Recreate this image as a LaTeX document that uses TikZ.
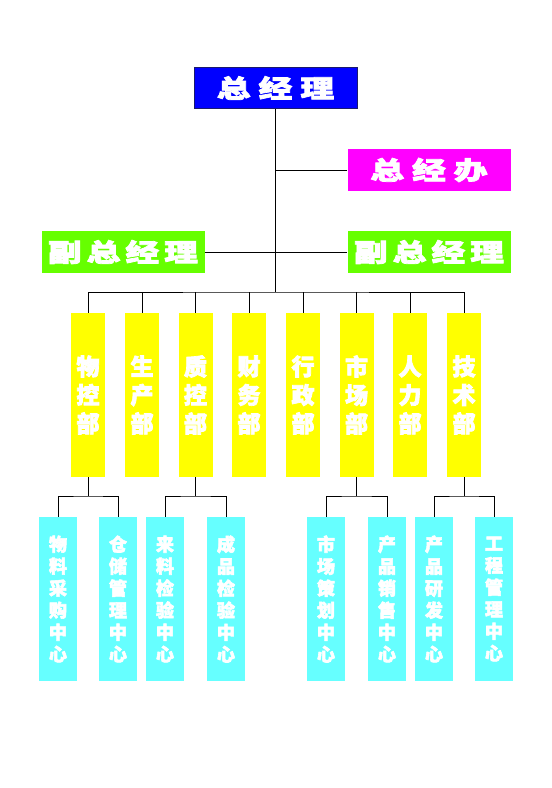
\documentclass[tikz,border=0pt]{standalone}
\usepackage{fontspec}
\newfontfamily\cjk[FakeBold=3]{Noto Sans CJK SC}
\newfontfamily\cjkwide[FakeBold=3,FakeStretch=1.35]{Noto Sans CJK SC}
\usetikzlibrary{positioning, calc}
\definecolor{gmblue}{HTML}{0000FF}
\definecolor{gmnavy}{HTML}{1A1A6E}
\definecolor{officepink}{HTML}{FF00FF}
\definecolor{vicegreen}{HTML}{66FF00}
\definecolor{deptyellow}{HTML}{FFFF00}
\definecolor{centercyan}{HTML}{66FFFF}
\tikzset{
  topbox/.style={inner sep=0pt, minimum width=163, minimum height=41, text=white,
    font=\cjkwide\bfseries\fontsize{25}{25}\selectfont},
  deptbox/.style={fill=deptyellow, inner sep=0pt, minimum width=34, minimum height=164,
    text=white, align=center, font=\cjk\bfseries\fontsize{23}{28.5}\selectfont},
  centerbox/.style={fill=centercyan, inner sep=0pt, minimum width=38, minimum height=164,
    text=white, align=center, font=\cjk\bfseries\fontsize{18}{22}\selectfont},
  link/.style={draw=black, line width=1}
}
\begin{document}
\begin{tikzpicture}[x=1pt, y=-1pt]
          \useasboundingbox (0,0) rectangle (552,788);
          % top management
          \node[topbox, fill=gmblue, draw=gmnavy, line width=1] (gm) at (275.5,88) {总\hspace{8pt}经\hspace{8pt}理};
          \node[topbox, fill=officepink, minimum height=42] (office) at (429,170) {总\hspace{8pt}经\hspace{8pt}办};
          \node[topbox, fill=vicegreen, minimum height=42] (vgmL) at (123,252) {副\hspace{5pt}总\hspace{5pt}经\hspace{5pt}理};
          \node[topbox, fill=vicegreen, minimum height=42] (vgmR) at (429,252) {副\hspace{5pt}总\hspace{5pt}经\hspace{5pt}理};
          \coordinate (bus) at (275.5,292);
          % departments
          \node[deptbox] (d1) at (88,395) {物\\控\\部};
          \node[deptbox] (d2) at (142,395) {生\\产\\部};
          \node[deptbox] (d3) at (195.5,395) {质\\控\\部};
          \node[deptbox] (d4) at (249,395) {财\\务\\部};
          \node[deptbox] (d5) at (303,395) {行\\政\\部};
          \node[deptbox] (d6) at (356.5,395) {市\\场\\部};
          \node[deptbox] (d7) at (410,395) {人\\力\\部};
          \node[deptbox] (d8) at (464,395) {技\\术\\部};
          % centers
          \node[centerbox] (c1) at (58,599) {物\\料\\采\\购\\中\\心};
          \node[centerbox] (c2) at (118,599) {仓\\储\\管\\理\\中\\心};
          \node[centerbox] (c3) at (165,599) {来\\料\\检\\验\\中\\心};
          \node[centerbox] (c4) at (226,599) {成\\品\\检\\验\\中\\心};
          \node[centerbox] (c5) at (326,599) {市\\场\\策\\划\\中\\心};
          \node[centerbox] (c6) at (387,599) {产\\品\\销\\售\\中\\心};
          \node[centerbox] (c7) at (434,599) {产\\品\\研\\发\\中\\心};
          \node[centerbox] (c8) at (494,599) {工\\程\\管\\理\\中\\心};
          \coordinate (b1) at (88,496);
          \coordinate (b3) at (195.5,496);
          \coordinate (b6) at (356.5,496);
          \coordinate (b8) at (464,496);
          % connectors
          \draw[link] (gm.south) -- (bus);
          \draw[link] (office.west) -- (office.west -| gm.south);
          \draw[link] (vgmL.east) -- (vgmR.west);
          \draw[link] (d1.north) |- (bus) -| (d8.north);
          \foreach \d in {d2,d3,d4,d5,d6,d7}
            \draw[link] (\d.north) -- (\d.north |- bus);
          \draw[link] (d1.south) -- (b1);
          \draw[link] (c1.north) |- (b1) -| (c2.north);
          \draw[link] (d3.south) -- (b3);
          \draw[link] (c3.north) |- (b3) -| (c4.north);
          \draw[link] (d6.south) -- (b6);
          \draw[link] (c5.north) |- (b6) -| (c6.north);
          \draw[link] (d8.south) -- (b8);
          \draw[link] (c7.north) |- (b8) -| (c8.north);
        \end{tikzpicture}
\end{document}
